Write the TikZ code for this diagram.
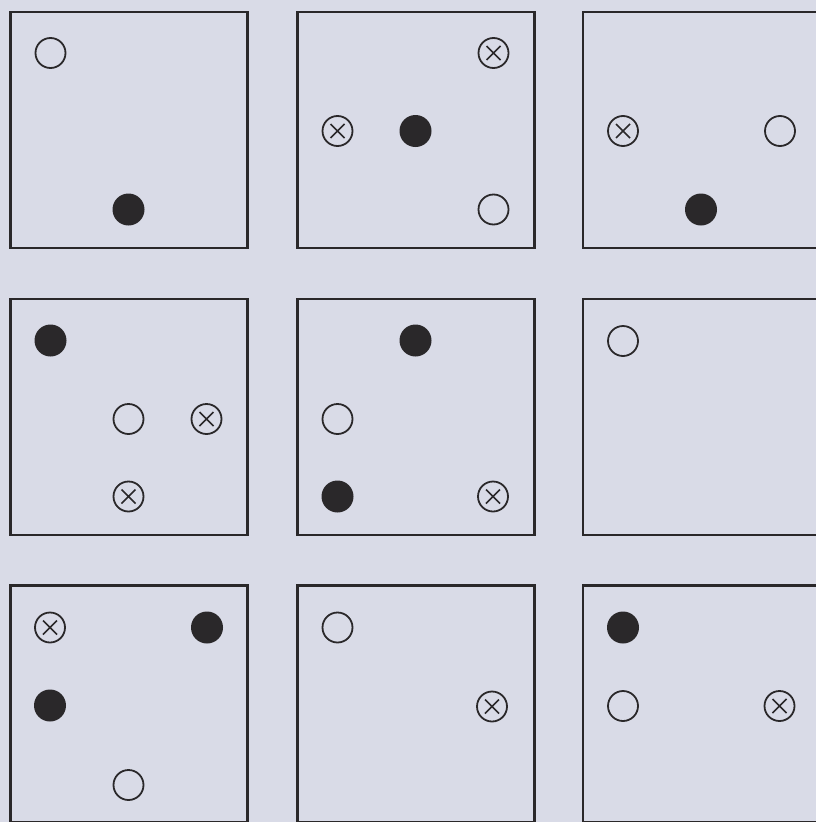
\documentclass[tikz,border=0pt]{standalone}
\definecolor{paper}{RGB}{217,219,231}
\definecolor{ink}{RGB}{42,40,42}
\begin{document}
\begin{tikzpicture}[x=1pt,y=-1pt,
  sqbox/.style={draw=ink,line width=2.6pt,inner sep=0pt,outer sep=0pt,minimum width=237pt,minimum height=236pt,anchor=north west},
  opendot/.style={circle,draw=ink,line width=1.8pt,minimum size=30pt,inner sep=0pt},
  fulldot/.style={circle,fill=ink,minimum size=32pt,inner sep=0pt},
  crossdot/.style={opendot,path picture={
    \draw[ink,line width=1.6pt]
      ([shift={(-7pt,-7pt)}]path picture bounding box.center) -- ([shift={(7pt,7pt)}]path picture bounding box.center)
      ([shift={(-7pt,7pt)}]path picture bounding box.center) -- ([shift={(7pt,-7pt)}]path picture bounding box.center);}}]
\fill[paper] (0,0) rectangle (816,822);
\useasboundingbox (0,0) rectangle (816,822);
\clip (0,0) rectangle (816,822);
% squares
\node[sqbox] (sA) at (10.5,12) {};
\node[sqbox] (sB) at (297.5,12) {};
\node[sqbox] (sC) at (583,12) {};
\node[sqbox] (sD) at (10.5,299) {};
\node[sqbox] (sE) at (297.5,299) {};
\node[sqbox] (sF) at (583,299) {};
\node[sqbox,minimum height=237pt] (sG) at (10.5,585.5) {};
\node[sqbox,minimum height=237pt] (sH) at (297.5,585.5) {};
\node[sqbox,minimum height=237pt] (sI) at (583,585.5) {};
% square A
\node[opendot] (a1) at (50.5,53) {};
\node[fulldot] (a2) at (128.5,209.5) {};
% square B
\node[crossdot] (b1) at (493.5,53) {};
\node[crossdot] (b2) at (337.5,131) {};
\node[fulldot] (b3) at (415.5,131) {};
\node[opendot] (b4) at (493.5,209.5) {};
% square C
\node[crossdot] (c1) at (623,131) {};
\node[opendot] (c2) at (780,131) {};
\node[fulldot] (c3) at (701,209.5) {};
% square D
\node[fulldot] (d1) at (50.5,340.5) {};
\node[opendot] (d2) at (128.5,419) {};
\node[crossdot] (d3) at (206.5,419) {};
\node[crossdot] (d4) at (128.5,496.5) {};
% square E
\node[fulldot] (e1) at (415.5,340.5) {};
\node[opendot] (e2) at (337.5,419) {};
\node[fulldot] (e3) at (337.5,496.5) {};
\node[crossdot] (e4) at (493,496.5) {};
% square F
\node[opendot] (f1) at (623,341) {};
% square G
\node[crossdot] (g1) at (50,627.5) {};
\node[fulldot] (g2) at (207,627.5) {};
\node[fulldot] (g3) at (50,705.5) {};
\node[opendot] (g4) at (128.5,785) {};
% square H
\node[opendot] (h1) at (337.5,627.5) {};
\node[crossdot] (h2) at (492,706.5) {};
% square I
\node[fulldot] (i1) at (623,627.5) {};
\node[opendot] (i2) at (623,706) {};
\node[crossdot] (i3) at (779.5,706) {};
\end{tikzpicture}
\end{document}
